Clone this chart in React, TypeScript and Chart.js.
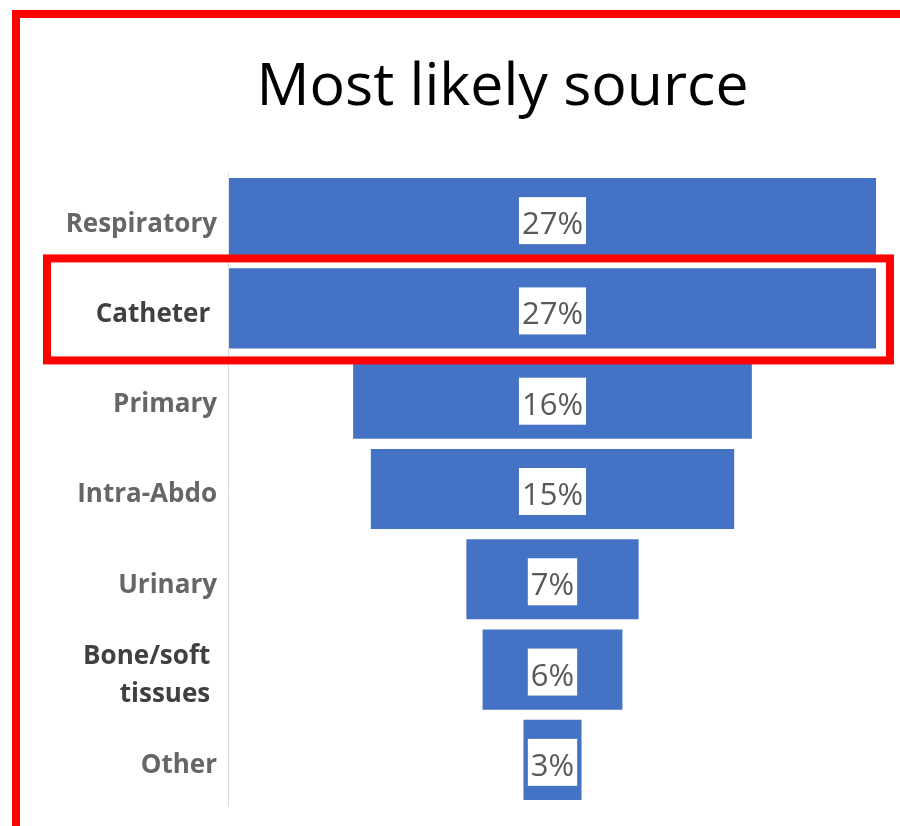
import React, { useEffect, useRef } from "react";
import { Chart, registerables } from "chart.js";

Chart.register(...registerables);

const categories: (string | string[])[] = [
  "Respiratory",
  "Catheter ",
  "Primary",
  "Intra-Abdo",
  "Urinary",
  ["Bone/soft ", "tissues "],
  "Other",
];
const shares: number[] = [27, 27, 16.67, 15.2, 7.25, 5.9, 2.5];
const shareLabels: string[] = ["27%", "27%", "16%", "15%", "7%", "6%", "3%"];
const labelColors: string[] = ["#666666", "#404040", "#666666", "#666666", "#666666", "#404040", "#666666"];
const highlightIndex = 1;
const titleText = "Most likely source";

const annotate = {
  id: "annotate",
  afterDatasetsDraw(chart: any) {
    const ctx = chart.ctx;
    const meta = chart.getDatasetMeta(0);
    ctx.save();
    ctx.font = "31px 'Open Sans'";
    ctx.textAlign = "center";
    ctx.textBaseline = "alphabetic";
    meta.data.forEach((el: any, i: number) => {
      const cx = (el.x + el.base) / 2;
      const cy = el.y;
      const txt = shareLabels[i];
      const w = ctx.measureText(txt).width + 6;
      ctx.fillStyle = "#ffffff";
      ctx.fillRect(cx - w / 2, cy - 21, w, 47);
      ctx.fillStyle = "#595959";
      ctx.fillText(txt, cx, cy + 16);
    });
    ctx.restore();
  },
  afterDraw(chart: any) {
    const ctx = chart.ctx;
    const area = chart.chartArea;
    const yScale = chart.scales.y;
    ctx.save();
    // title, centred over the funnel block
    ctx.font = "59px 'Open Sans'";
    ctx.fillStyle = "#000000";
    ctx.textAlign = "center";
    ctx.textBaseline = "alphabetic";
    ctx.fillText(titleText, (area.right + 128) / 2, 105);
    ctx.strokeStyle = "#ff0000";
    ctx.lineWidth = 8;
    // outer frame (left and top edges visible)
    ctx.beginPath();
    ctx.moveTo(16, chart.height + 10);
    ctx.lineTo(16, 14);
    ctx.lineTo(chart.width + 10, 14);
    ctx.stroke();
    // highlight box around the Catheter row
    const cy = yScale.getPixelForValue(highlightIndex);
    ctx.strokeRect(47, cy - 50, area.right + 13 - 47, 102);
    ctx.restore();
  },
};

export default function App() {
  const ref = useRef<HTMLCanvasElement | null>(null);
  useEffect(() => {
    if (!ref.current) return;
    const chart = new Chart(ref.current, {
      type: "bar",
      data: {
        labels: categories,
        datasets: [
          {
            data: shares.map((v) => [-v / 2, v / 2]) as any,
            backgroundColor: "#4472c4",
            borderColor: "rgba(255,255,255,0.35)",
            borderWidth: 1,
            borderSkipped: false,
            barPercentage: 0.91,
            categoryPercentage: 1,
          },
        ],
      },
      options: {
        indexAxis: "y",
        responsive: false,
        animation: false,
        maintainAspectRatio: false,
        layout: { padding: { top: 173, right: 23, bottom: 21, left: 0 } },
        plugins: {
          legend: { display: false },
          tooltip: { enabled: false },
          title: { display: false },
        },
        scales: {
          x: {
            display: false,
            min: -13.5,
            max: 13.5,
          },
          y: {
            afterFit: (s: any) => {
              s.width = 228;
              s.paddingTop = 0;
              s.paddingBottom = 0;
            },
            grid: { display: false },
            border: { display: true, color: "#d9d9d9", width: 1 },
            ticks: {
              padding: 3,
              labelOffset: 6,
              color: labelColors as any,
              font: { family: "'Open Sans'", size: 26, weight: "bold", lineHeight: 1.45 },
            },
          },
        },
      },
      plugins: [annotate],
    });
    return () => chart.destroy();
  }, []);
  return (
    <div style={{ position: "fixed", left: 0, top: 0, width: 900, height: 826, background: "#ffffff" }}>
      <canvas ref={ref} width={900} height={826} style={{ display: "block" }} />
    </div>
  );
}
